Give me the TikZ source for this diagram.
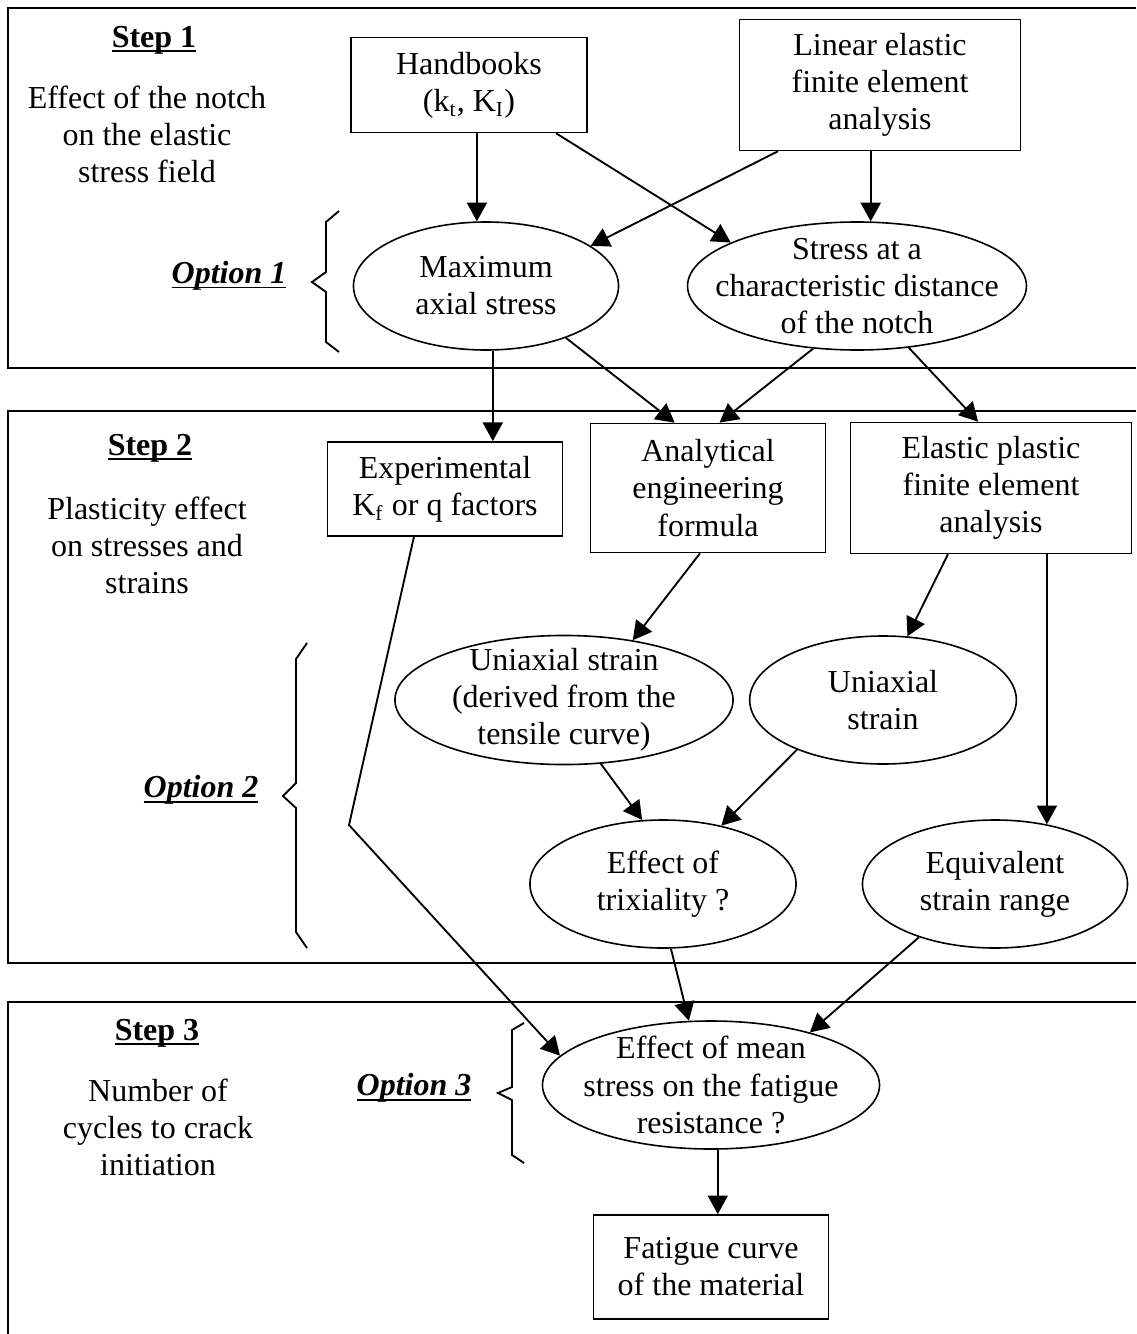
\documentclass[tikz,border=0pt]{standalone}
\usepackage{fontspec}
\setmainfont{Liberation Serif}
\usetikzlibrary{arrows.meta, shapes.geometric}
\newcommand{\thickul}[1]{\setbox0\hbox{#1}\leavevmode\rlap{\rule[-1.8pt]{\wd0}{0.7pt}}\box0}

\begin{document}
\begin{tikzpicture}[x=0.375pt, y=-0.375pt, >={Triangle[length=7pt, width=7.5pt]},
    txt/.style={align=center, inner sep=0pt, font=\fontsize{12pt}{13.9pt}\selectfont},
    box/.style={rectangle, draw, line width=0.6pt, align=center, font=\fontsize{12pt}{13.9pt}\selectfont},
    oval/.style={ellipse, draw, line width=0.6pt, inner sep=0pt},
    frame/.style={line width=0.9pt},
    link/.style={->, line width=0.7pt}]
    \useasboundingbox (0,0) rectangle (1136,1334);

    % the three steps
    \draw[frame] (1136,8) -- (8,8) -- (8,368) -- (1136,368);
    \draw[frame] (1136,411) -- (8,411) -- (8,963) -- (1136,963);
    \draw[frame] (1136,1002) -- (8,1002) -- (8,1334);

    \node (step1) [txt] at (154,40) {\thickul{\textbf{Step 1}}};
    \node (eff) [txt] at (147,134) {Effect of the notch\\on the elastic\\stress field};
    \node (opt1) [txt] at (229,276) {\thickul{\textbf{\textit{Option 1}}}};
    \node (step2) [txt] at (150,448) {\thickul{\textbf{Step 2}}};
    \node (plast) [txt] at (147,545) {Plasticity effect\\on stresses and\\strains};
    \node (opt2) [txt] at (201,790) {\thickul{\textbf{\textit{Option 2}}}};
    \node (step3) [txt] at (157,1033) {\thickul{\textbf{Step 3}}};
    \node (num) [txt] at (158,1127) {Number of\\cycles to crack\\initiation};
    \node (opt3) [txt] at (414,1088) {\thickul{\textbf{\textit{Option 3}}}};

    % braces
    \draw[line width=0.7pt] (339,211) -- (326,222) -- (326,272) -- (312,282) -- (326,292) -- (326,342) -- (339,352);
    \draw[line width=0.7pt] (307,643) -- (296,659) -- (296,783) -- (283,796) -- (296,808) -- (296,932) -- (307,948);
    \draw[line width=0.7pt] (524,1023) -- (512,1030) -- (512,1087) -- (498,1093) -- (512,1100) -- (512,1155) -- (524,1163);

    % step 1
    \node (hand) [box, minimum width=88.5pt, minimum height=35.6pt] at (469,85) {Handbooks\\(k\textsubscript{t}, K\textsubscript{I})};
    \node (lin) [box, minimum width=105.4pt, minimum height=49.1pt] at (880,85) {Linear elastic\\finite element\\analysis};
    \node (maxst) [oval, minimum width=99.4pt, minimum height=48pt] at (486,286) {};
    \node (maxst-txt) [txt] at (maxst) {Maximum\\axial stress};
    \node (dist) [oval, minimum width=127.1pt, minimum height=48pt] at (857,286) {};
    \node (dist-txt) [txt] at (dist) {Stress at a\\characteristic distance\\of the notch};

    % step 2
    \node (exp) [box, minimum width=88.1pt, minimum height=35.3pt] at (445,489) {Experimental\\K\textsubscript{f} or q factors};
    \node (anal) [box, minimum width=88.1pt, minimum height=48.4pt] at (708,488) {Analytical\\engineering\\formula};
    \node (epfe) [box, minimum width=105.4pt, minimum height=49.1pt] at (991,488) {Elastic plastic\\finite element\\analysis};
    \node (uni1) [oval, minimum width=126.8pt, minimum height=48.4pt] at (564,700) {};
    \node (uni1-txt) [txt] at (uni1) {Uniaxial strain\\(derived from the\\tensile curve)};
    \node (uni2) [oval, minimum width=100pt, minimum height=48pt] at (883,700) {};
    \node (uni2-txt) [txt] at (uni2) {Uniaxial\\strain};
    \node (trix) [oval, minimum width=99.8pt, minimum height=48pt] at (663,884) {};
    \node (trix-txt) [txt] at (trix) {Effect of\\trixiality ?};
    \node (equiv) [oval, minimum width=99.4pt, minimum height=48pt] at (995,884) {};
    \node (equiv-txt) [txt] at (equiv) {Equivalent\\strain range};

    % step 3
    \node (mean) [oval, minimum width=126.4pt, minimum height=48pt] at (711,1085) {};
    \node (mean-txt) [txt] at (mean) {Effect of mean\\stress on the fatigue\\resistance ?};
    \node (fat) [box, minimum width=88.1pt, minimum height=39pt] at (711,1267) {Fatigue curve\\of the material};
    \coordinate (kbend) at (349,825);

    \draw[link] (hand.south -| maxst.98) -- (maxst.98);
    \draw[link] (hand.-29) -- (dist.161);
    \draw[link] (lin.-147) -- (maxst.21);
    \draw[link] (lin.south -| dist.78) -- (dist.78);
    \draw[link] (maxst.-84) -- (maxst.-84 |- exp.north);
    \draw[link] (maxst.-33) -- (anal.117);
    \draw[link] (dist.-125) -- (anal.80);
    \draw[link] (dist.-50) -- (epfe.101);
    \draw[link] (anal.-97) -- (uni1.41);
    \draw[link] (epfe.-123) -- (uni2.69);
    \draw[link] (epfe.south -| equiv.49) -- (equiv.49);
    \draw[link] (uni1.-60) -- (trix.108);
    \draw[link] (uni2.-150) -- (trix.45);
    \draw[link] (exp.-123) -- (kbend) -- (mean.169);
    \draw[link] (trix.-83) -- (mean.109);
    \draw[link] (equiv.-145) -- (mean.28);
    \draw[link] (mean.-84) -- (mean.-84 |- fat.north);
\end{tikzpicture}
\end{document}
